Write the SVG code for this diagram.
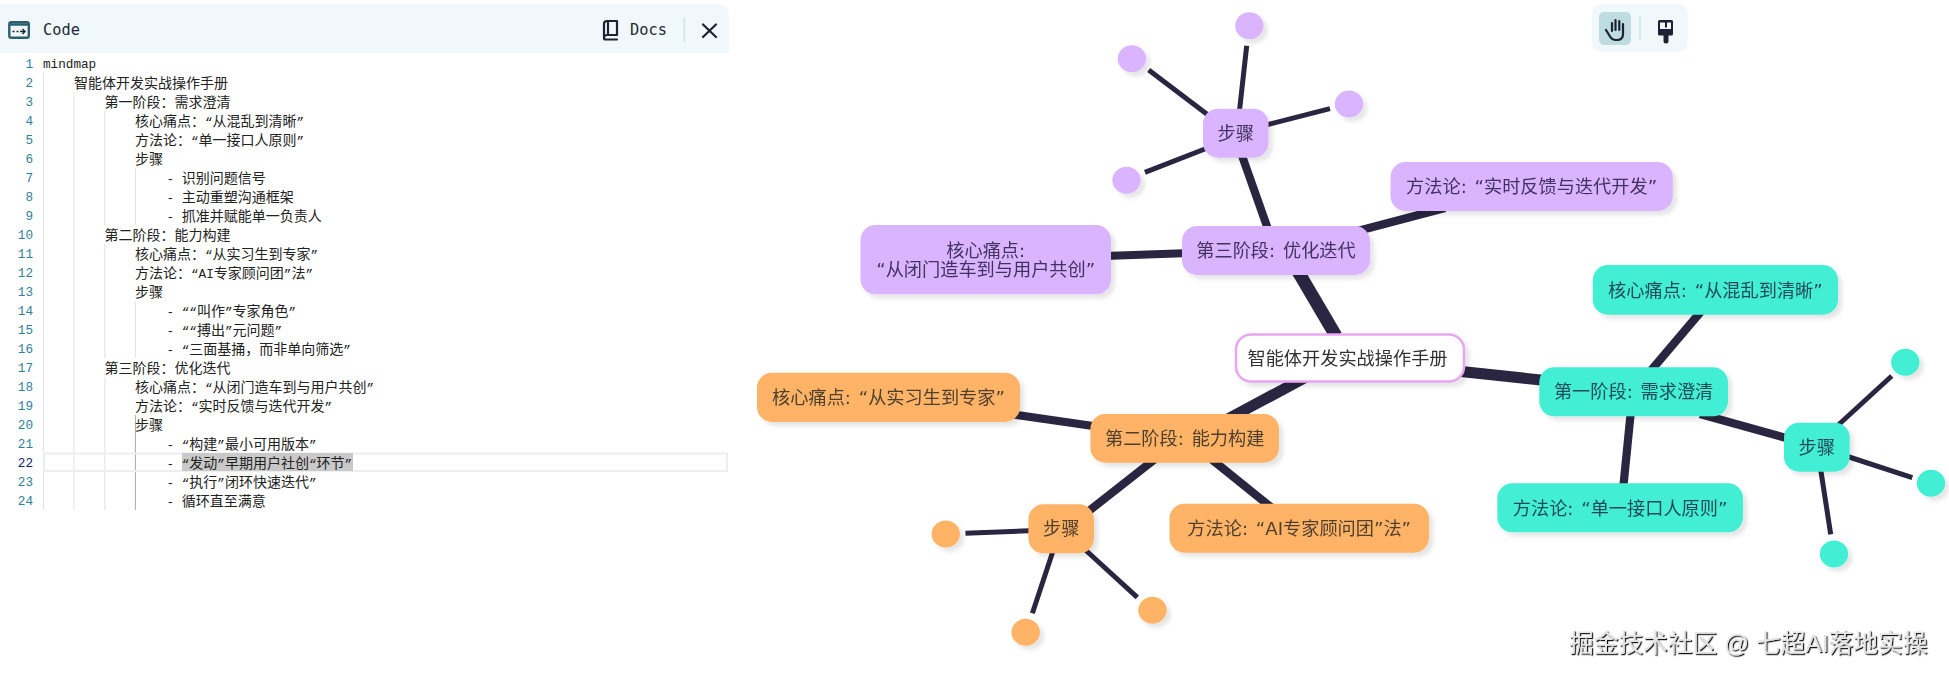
<svg xmlns="http://www.w3.org/2000/svg" width="1949" height="677" viewBox="0 0 1949 677">
<style>
.ln{font:12.67px "Liberation Mono","DejaVu Sans Mono",monospace;fill:#2f8199;text-anchor:end}
.cd{font:14px "Noto Sans CJK SC",sans-serif;fill:#222;white-space:pre}
.m{font-family:"Liberation Mono","DejaVu Sans Mono",monospace;font-size:12.67px}
.ui{font:15.3px "DejaVu Sans Mono",monospace;fill:#1f2937}
.g{stroke:#e2e2e2;stroke-width:1;fill:none}
.ic{stroke:#1b2233;stroke-width:2.2;fill:none;stroke-linecap:round;stroke-linejoin:round}
.c{stroke:#2a2540;fill:none}
.w13{stroke-width:13}.w11{stroke-width:11}.w8{stroke-width:8.200}.w5{stroke-width:5}
.t{font:18.200px "DejaVu Sans","Noto Sans CJK SC",sans-serif;text-anchor:middle;word-spacing:2px}
.p{fill:#dab4ff}.pt{fill:#43325f}
.gr{fill:#43eed4}.gt{fill:#234c58}
.o{fill:#ffb366}.ot{fill:#50402f}
.n{filter:url(#sh)}
</style>
<defs>
<filter id="sh" x="-20%" y="-30%" width="140%" height="170%"><feDropShadow dx="4" dy="4" stdDeviation="2" flood-color="#000" flood-opacity=".1"/></filter>
<filter id="wm" x="-5%" y="-20%" width="110%" height="150%"><feDropShadow dx="1.200" dy="1.200" stdDeviation=".4" flood-color="#111" flood-opacity="1"/></filter>
</defs>
<rect width="1949" height="677" fill="#fff"/>
<g id="code-panel">
<path d="M0 4H717a12 12 0 0 1 12 12V53H0Z" fill="#f1f8fb"/>
<g id="code-icon"><rect x="9.300" y="22.300" width="19.500" height="15.500" rx="2" fill="#f1f8fb" stroke="#2c5f6f" stroke-width="2.400"/><path d="M9 24.500H29" stroke="#2c5f6f" stroke-width="2.500"/><path d="M12.500 31.500h2M16.500 31.500h2M20 31.500h4.500M22.500 29l2.500 2.500-2.500 2.500" stroke="#1b2233" stroke-width="1.400" fill="none"/></g>
<text class="ui" x="43" y="34.500">Code</text>
<path class="ic" d="M604 37V24a3 3 0 0 1 3-3h10v14H607a3 3 0 0 0-3 3 1.500 1.500 0 0 0 1.500 1.500H617M608 21V35"/>
<text class="ui" x="630" y="34.500">Docs</text>
<path d="M684.300 18V42" stroke="#cfe2e2" stroke-width="1.500"/>
<path class="ic" d="M703 24.500L716 37M716 24.500L703 37"/>
<path class="g" d="M43.500 73V510M74 92V510M104.800 111V225M104.800 244V358M104.800 377V510M135.400 168V225M135.400 301V358"/>
<path d="M135.400 415V510" stroke="#a8a8a8" stroke-width="1"/>
<rect x="44" y="453.500" width="683" height="17.500" fill="none" stroke="#eee" stroke-width="2"/>
<rect x="182" y="453" width="171" height="18" fill="#c9c9c9"/>
<g id="line-numbers">
<text class="ln" x="33" y="68">1</text><text class="ln" x="33" y="87">2</text><text class="ln" x="33" y="106">3</text><text class="ln" x="33" y="125">4</text><text class="ln" x="33" y="144">5</text><text class="ln" x="33" y="163">6</text><text class="ln" x="33" y="182">7</text><text class="ln" x="33" y="201">8</text><text class="ln" x="33" y="220">9</text><text class="ln" x="33" y="239">10</text><text class="ln" x="33" y="258">11</text><text class="ln" x="33" y="277">12</text><text class="ln" x="33" y="296">13</text><text class="ln" x="33" y="315">14</text><text class="ln" x="33" y="334">15</text><text class="ln" x="33" y="353">16</text><text class="ln" x="33" y="372">17</text><text class="ln" x="33" y="391">18</text><text class="ln" x="33" y="410">19</text><text class="ln" x="33" y="429">20</text><text class="ln" x="33" y="448">21</text><text class="ln" x="33" y="467" style="fill:#0b216f">22</text><text class="ln" x="33" y="486">23</text><text class="ln" x="33" y="505">24</text>
</g>
<g id="code-lines">
<text class="cd" x="43" y="68"><tspan class="m">mindmap</tspan></text>
<text class="cd" x="74" y="87.500">智能体开发实战操作手册</text>
<text class="cd" x="104.500" y="106.500">第一阶段：需求澄清</text>
<text class="cd" x="135" y="125.500">核心痛点：<tspan class="m">“</tspan>从混乱到清晰<tspan class="m">”</tspan></text>
<text class="cd" x="135" y="144.500">方法论：<tspan class="m">“</tspan>单一接口人原则<tspan class="m">”</tspan></text>
<text class="cd" x="135" y="163.500">步骤</text>
<text class="cd" x="166.500" y="182.500"><tspan class="m">- </tspan>识别问题信号</text>
<text class="cd" x="166.500" y="201.500"><tspan class="m">- </tspan>主动重塑沟通框架</text>
<text class="cd" x="166.500" y="220.500"><tspan class="m">- </tspan>抓准并赋能单一负责人</text>
<text class="cd" x="104.500" y="239.500">第二阶段：能力构建</text>
<text class="cd" x="135" y="258.500">核心痛点：<tspan class="m">“</tspan>从实习生到专家<tspan class="m">”</tspan></text>
<text class="cd" x="135" y="277.500">方法论：<tspan class="m">“AI</tspan>专家顾问团<tspan class="m">”</tspan>法<tspan class="m">”</tspan></text>
<text class="cd" x="135" y="296.500">步骤</text>
<text class="cd" x="166.500" y="315.500"><tspan class="m">- ““</tspan>叫作<tspan class="m">”</tspan>专家角色<tspan class="m">”</tspan></text>
<text class="cd" x="166.500" y="334.500"><tspan class="m">- ““</tspan>搏出<tspan class="m">”</tspan>元问题<tspan class="m">”</tspan></text>
<text class="cd" x="166.500" y="353.500"><tspan class="m">- “</tspan>三面基捅，而非单向筛选<tspan class="m">”</tspan></text>
<text class="cd" x="104.500" y="372.500">第三阶段：优化迭代</text>
<text class="cd" x="135" y="391.500">核心痛点：<tspan class="m">“</tspan>从闭门造车到与用户共创<tspan class="m">”</tspan></text>
<text class="cd" x="135" y="410.500">方法论：<tspan class="m">“</tspan>实时反馈与迭代开发<tspan class="m">”</tspan></text>
<text class="cd" x="135" y="429.500">步骤</text>
<text class="cd" x="166.500" y="448.500"><tspan class="m">- “</tspan>构建<tspan class="m">”</tspan>最小可用版本<tspan class="m">”</tspan></text>
<text class="cd" x="166.500" y="467.500"><tspan class="m">- “</tspan>发动<tspan class="m">”</tspan>早期用户社创<tspan class="m">“</tspan>环节<tspan class="m">”</tspan></text>
<text class="cd" x="166.500" y="486.500"><tspan class="m">- “</tspan>执行<tspan class="m">”</tspan>闭环快速迭代<tspan class="m">”</tspan></text>
<text class="cd" x="166.500" y="505.500"><tspan class="m">- </tspan>循环直至满意</text>
</g>
</g>
<g id="toolbar">
<rect x="1591.700" y="4" width="96.500" height="48" rx="10" fill="#f1f8fb"/>
<rect x="1599" y="12" width="32" height="33" rx="5" fill="#bfdde1"/>
<path class="ic" d="M1606 30l4 6.500q2 3.500 6 3.500h1q6 0 6-6V24M1612 31V23M1615.500 30V20M1619.300 30V21M1623 31V24"/>
<path d="M1640 16V40" stroke="#cfe2e2" stroke-width="1.500"/>
<path d="M1659.500 20h12a1.500 1.500 0 0 1 1.500 1.500V34a1.500 1.500 0 0 1-1.500 1.500h-3V41a2.500 2.500 0 0 1-5 0V35.500h-4a1.500 1.500 0 0 1-1.500-1.500V21.500a1.500 1.500 0 0 1 1.500-1.500Z" fill="#1b2233"/>
<path d="M1660 22.500h5v5h2v-5h4v6.500h-11Z" fill="#f1f8fb"/>
</g>
<g id="connectors">
<path class="c w11" d="M1400 365L1560 382"/>
<path class="c w11" d="M1310 375L1224 421"/>
<path class="c w13" d="M1296 268L1336 336"/>
<path class="c w8" d="M1105 256L1190 253"/>
<path class="c w8" d="M1240 150L1270 235"/>
<path class="c w8" d="M1350 233L1445 208"/>
<path class="c w5" d="M1239 115L1246.700 45.700"/>
<path class="c w5" d="M1212 118L1148.700 70"/>
<path class="c w5" d="M1210 147L1144.900 172.300"/>
<path class="c w5" d="M1262 126L1330 108.700"/>
<path class="c w8" d="M1010 414L1100 427"/>
<path class="c w8" d="M1155 459L1085 514"/>
<path class="c w8" d="M1210 458L1272 508"/>
<path class="c w5" d="M1035 530.500L965.400 533.300"/>
<path class="c w5" d="M1055 545L1032.400 613.300"/>
<path class="c w5" d="M1080 545L1137.300 597.300"/>
<path class="c w8" d="M1704 308L1648 374"/>
<path class="c w8" d="M1631 410L1623 490"/>
<path class="c w8" d="M1700 414L1790 439"/>
<path class="c w5" d="M1835 428L1891.700 376"/>
<path class="c w5" d="M1843 455L1912.300 477.700"/>
<path class="c w5" d="M1820 465L1830.700 534.300"/>
</g>
<g id="root" class="n"><rect x="1236" y="334.500" width="228" height="47" rx="15" fill="#fff" stroke="#e9a5f2" stroke-width="2.500"/><text class="t" x="1347.500" y="364.500" fill="#333">智能体开发实战操作手册</text></g>
<g id="stage3" class="n"><rect class="p" x="1182" y="226" width="188" height="49" rx="15"/><text class="t pt" x="1276" y="257">第三阶段: 优化迭代</text></g>
<g id="s3-pain" class="n"><rect class="p" x="860.500" y="225" width="250.500" height="69.300" rx="15"/><text class="t pt" x="985.700" y="256.500">核心痛点:</text><text class="t pt" x="985.700" y="276">“从闭门造车到与用户共创”</text></g>
<g id="s3-method" class="n"><rect class="p" x="1390.500" y="162" width="282.300" height="49" rx="15"/><text class="t pt" x="1531.600" y="193">方法论: “实时反馈与迭代开发”</text></g>
<g id="s3-steps" class="n"><rect class="p" x="1203" y="108.700" width="65.500" height="49" rx="15"/><text class="t pt" x="1235.700" y="139.500">步骤</text></g>
<g id="s3-step1" class="n"><ellipse class="p" cx="1249.400" cy="25.700" rx="14.200" ry="13.500"/></g>
<g id="s3-step2" class="n"><ellipse class="p" cx="1131.900" cy="58.700" rx="14.200" ry="13.500"/></g>
<g id="s3-step3" class="n"><ellipse class="p" cx="1349" cy="104" rx="14.200" ry="13.500"/></g>
<g id="s3-step4" class="n"><ellipse class="p" cx="1126.500" cy="180.300" rx="14.200" ry="13.500"/></g>
<g id="stage2" class="n"><rect class="o" x="1090.400" y="414" width="188.600" height="48.700" rx="15"/><text class="t ot" x="1184.700" y="445">第二阶段: 能力构建</text></g>
<g id="s2-pain" class="n"><rect class="o" x="757" y="372.700" width="263" height="49.300" rx="15"/><text class="t ot" x="888.500" y="404">核心痛点: “从实习生到专家”</text></g>
<g id="s2-method" class="n"><rect class="o" x="1169.500" y="503.700" width="259.500" height="49" rx="15"/><text class="t ot" x="1299.200" y="535">方法论: “AI专家顾问团”法”</text></g>
<g id="s2-steps" class="n"><rect class="o" x="1028.400" y="504.300" width="65.600" height="49" rx="15"/><text class="t ot" x="1061.200" y="535">步骤</text></g>
<g id="s2-step1" class="n"><ellipse class="o" cx="945.800" cy="534" rx="14.200" ry="13.500"/></g>
<g id="s2-step2" class="n"><ellipse class="o" cx="1152.500" cy="610.300" rx="14.200" ry="13.500"/></g>
<g id="s2-step3" class="n"><ellipse class="o" cx="1025.700" cy="632.300" rx="14.200" ry="13.500"/></g>
<g id="stage1" class="n"><rect class="gr" x="1539.300" y="367.300" width="188.700" height="49" rx="15"/><text class="t gt" x="1633.600" y="398">第一阶段: 需求澄清</text></g>
<g id="s1-pain" class="n"><rect class="gr" x="1592.800" y="265" width="245.200" height="49.700" rx="15"/><text class="t gt" x="1715.400" y="297">核心痛点: “从混乱到清晰”</text></g>
<g id="s1-method" class="n"><rect class="gr" x="1497.300" y="483.300" width="245.700" height="49" rx="15"/><text class="t gt" x="1620.100" y="514.500">方法论: “单一接口人原则”</text></g>
<g id="s1-steps" class="n"><rect class="gr" x="1784" y="422.700" width="65.700" height="49" rx="15"/><text class="t gt" x="1816.800" y="454">步骤</text></g>
<g id="s1-step1" class="n"><ellipse class="gr" cx="1905.300" cy="362.300" rx="14.200" ry="13.500"/></g>
<g id="s1-step2" class="n"><ellipse class="gr" cx="1931" cy="483.300" rx="14.200" ry="13.500"/></g>
<g id="s1-step3" class="n"><ellipse class="gr" cx="1834" cy="554" rx="14.200" ry="13.500"/></g>
<text id="watermark" x="1569" y="651.500" filter="url(#wm)" style="font:24.700px 'Liberation Sans','Noto Sans CJK SC',sans-serif;fill:#e4e4e4">掘金技术社区 @ 七超AI落地实操</text>
</svg>
